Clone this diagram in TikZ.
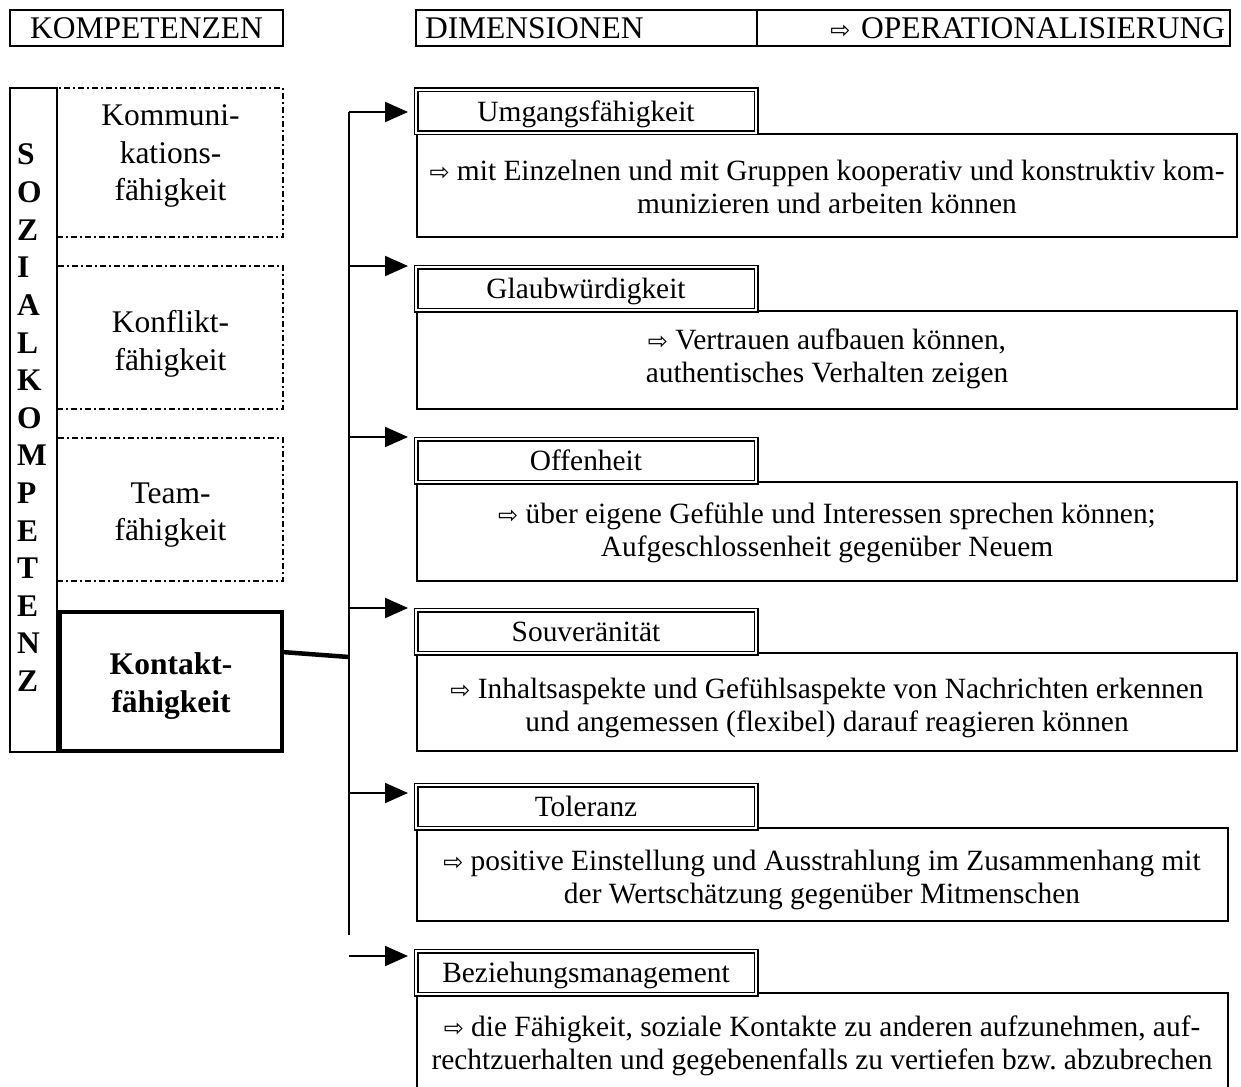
\documentclass[tikz,border=0pt]{standalone}
\usepackage{fontspec}
\setmainfont{Liberation Serif}
\newfontfamily\symf{DejaVu Sans}
\usetikzlibrary{arrows.meta}
\newcommand{\wa}{{\symf\fontsize{24}{24}\selectfont ⇨}}
\frenchspacing
\begin{document}
\begin{tikzpicture}[x=1pt,y=-1pt,
  every node/.style={outer sep=0pt, inner sep=0pt},
  big/.style={font=\fontsize{31.5}{37.8}\selectfont},
  bigb/.style={font=\fontsize{31.5}{37.8}\selectfont\bfseries},
  body/.style={font=\fontsize{29.4}{33}\selectfont},
  hdr/.style={draw, line width=2.2pt, anchor=north west, minimum height=36pt, big},
  dbox/.style={draw, line width=1.6pt, dash pattern=on 6pt off 3pt on 2pt off 3pt, anchor=north west, minimum width=226pt},
  titlebox/.style={draw, fill=white, double, double distance=2.4pt, line width=1.3pt, anchor=north west, minimum width=340pt, minimum height=43pt, body, text height=26pt, text depth=6pt},
  descbox/.style={draw, line width=2pt, anchor=north west},
  desctext/.style={body, align=center},
  branch/.style={line width=2pt, -{Triangle[length=23pt,width=20pt]}, shorten >=8pt},
]
\useasboundingbox (0,0) rectangle (1241,1086);
\clip (0,0) rectangle (1241,1086);

% headers
\node[hdr, minimum width=273pt] (hk) at (10,10) {KOMPETENZEN};
\node[hdr, inner xsep=9pt, text width=323pt, align=left] (hd) at (416,10) {DIMENSIONEN};
\node[hdr, inner xsep=5pt, text width=463pt, align=right] (ho) at (757,10) {\wa\ OPERATIONALISIERUNG};

% left column
\node[draw, line width=2pt, anchor=north west, minimum width=47pt, minimum height=664pt] (soz) at (10,88) {};
\foreach \L [count=\i] in {S,O,Z,I,A,L,K,O,M,P,E,T,E,N,Z}
  \node[bigb, anchor=base west] (sk\i) at (17,{165+(\i-1)*37.6}) {\L};

\node[dbox, minimum height=149pt] (k1) at (57,88) {};
\node[dbox, minimum height=143pt] (k2) at (57,266) {};
\node[dbox, minimum height=143pt] (k3) at (57,438) {};
\node[draw, line width=4.5pt, anchor=north west, minimum width=222pt, minimum height=139pt] (kon) at (60,612) {};

\node[big, align=center] (lk1) at (170.5,156) {Kommuni-\\kations-\\fähigkeit};
\node[big, align=center] (lk2) at (170.5,344) {Konflikt-\\fähigkeit};
\node[big, align=center] (lk3) at (170.5,515) {Team-\\fähigkeit};
\node[bigb, align=center] (lk4) at (171,686) {Kontakt-\\fähigkeit};

% description boxes
\node[descbox, minimum width=820pt, minimum height=103pt] (d1) at (417,134) {};
\node[descbox, minimum width=820pt, minimum height=98pt] (d2) at (417,311) {};
\node[descbox, minimum width=820pt, minimum height=99pt] (d3) at (417,482) {};
\node[descbox, minimum width=820pt, minimum height=98pt] (d4) at (417,653) {};
\node[descbox, minimum width=811pt, minimum height=93pt] (d5) at (417,828) {};
\node[descbox, minimum width=811pt, minimum height=107pt] (d6) at (417,993) {};

\node[desctext] (x1) at (827,187) {\wa\ mit Einzelnen und mit Gruppen kooperativ und konstruktiv kom-\\munizieren und arbeiten können};
\node[desctext] (x2) at (827,359) {\wa\ Vertrauen aufbauen können,\\authentisches Verhalten zeigen};
\node[desctext] (x3) at (827,533) {\wa\ über eigene Gefühle und Interessen sprechen können;\\Aufgeschlossenheit gegenüber Neuem};
\node[desctext] (x4) at (827,708) {\wa\ Inhaltsaspekte und Gefühlsaspekte von Nachrichten erkennen\\und angemessen (flexibel) darauf reagieren können};
\node[desctext] (x5) at (822,880) {\wa\ positive Einstellung und Ausstrahlung im Zusammenhang mit\\der Wertschätzung gegenüber Mitmenschen};
\node[desctext] (x6) at (822,1046) {\wa\ die Fähigkeit, soziale Kontakte zu anderen aufzunehmen, auf-\\rechtzuerhalten und gegebenenfalls zu vertiefen bzw. abzubrechen};

% title boxes
\node[titlebox] (t1) at (416,90) {Umgangsfähigkeit};
\node[titlebox] (t2) at (416,267) {Glaubwürdigkeit};
\node[titlebox] (t3) at (416,439) {Offenheit};
\node[titlebox] (t4) at (416,610) {Souveränität};
\node[titlebox] (t5) at (416,785) {Toleranz};
\node[titlebox] (t6) at (416,951) {Beziehungsmanagement};

% trunk and branches
\coordinate (trtop) at (349,112);
\coordinate (trbot) at (349,935);
\coordinate (kj) at (349,657);
\coordinate (a2) at (349,266);
\coordinate (a3) at (349,437);
\coordinate (a4) at (349,608);
\coordinate (a5) at (349,793);
\coordinate (a6) at (349,956);
\draw[line width=2pt] (trtop) -- (trbot);
\draw[line width=4.5pt] ([yshift=29.5pt]kon.east) -- (kj);
\draw[branch] (trtop) -- (trtop -| t1.west);
\draw[branch] (a2) -- (a2 -| t2.west);
\draw[branch] (a3) -- (a3 -| t3.west);
\draw[branch] (a4) -- (a4 -| t4.west);
\draw[branch] (a5) -- (a5 -| t5.west);
\draw[branch] (a6) -- (a6 -| t6.west);
\end{tikzpicture}
\end{document}
